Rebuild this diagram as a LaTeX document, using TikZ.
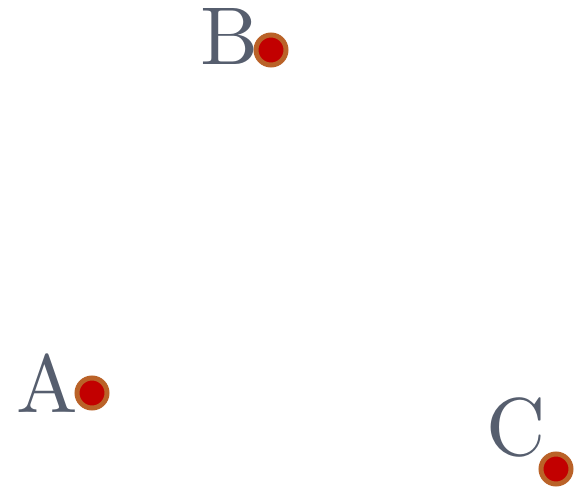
\documentclass[tikz,border=0pt]{standalone}
\usepackage{fontspec}
\definecolor{labgray}{RGB}{86,94,110}
\definecolor{dotred}{RGB}{194,0,0}
\definecolor{dotrim}{RGB}{186,98,40}
\begin{document}
\begin{tikzpicture}[x=1pt,y=-1pt,inner sep=0pt,outer sep=0pt,
pt/.style={draw=dotrim,fill=dotred,circle,line width=5pt,minimum size=30pt},
ptlabel/.style={text=labgray,font=\fontsize{10}{12}\selectfont,scale=8.2,transform shape,anchor=base east}]
\useasboundingbox (0,0) rectangle (584,488);
\node[pt] (A) at (92,393) {};
\node[pt] (B) at (271,50) {};
\node[pt] (C) at (556,469) {};
\node[ptlabel] (labA) at ([shift={(1,19)}]A.west) {A};
\node[ptlabel] (labB) at ([shift={(3,14)}]B.west) {B};
\node[ptlabel] (labC) at ([shift={(5,-14)}]C.west) {C};
\end{tikzpicture}
\end{document}
